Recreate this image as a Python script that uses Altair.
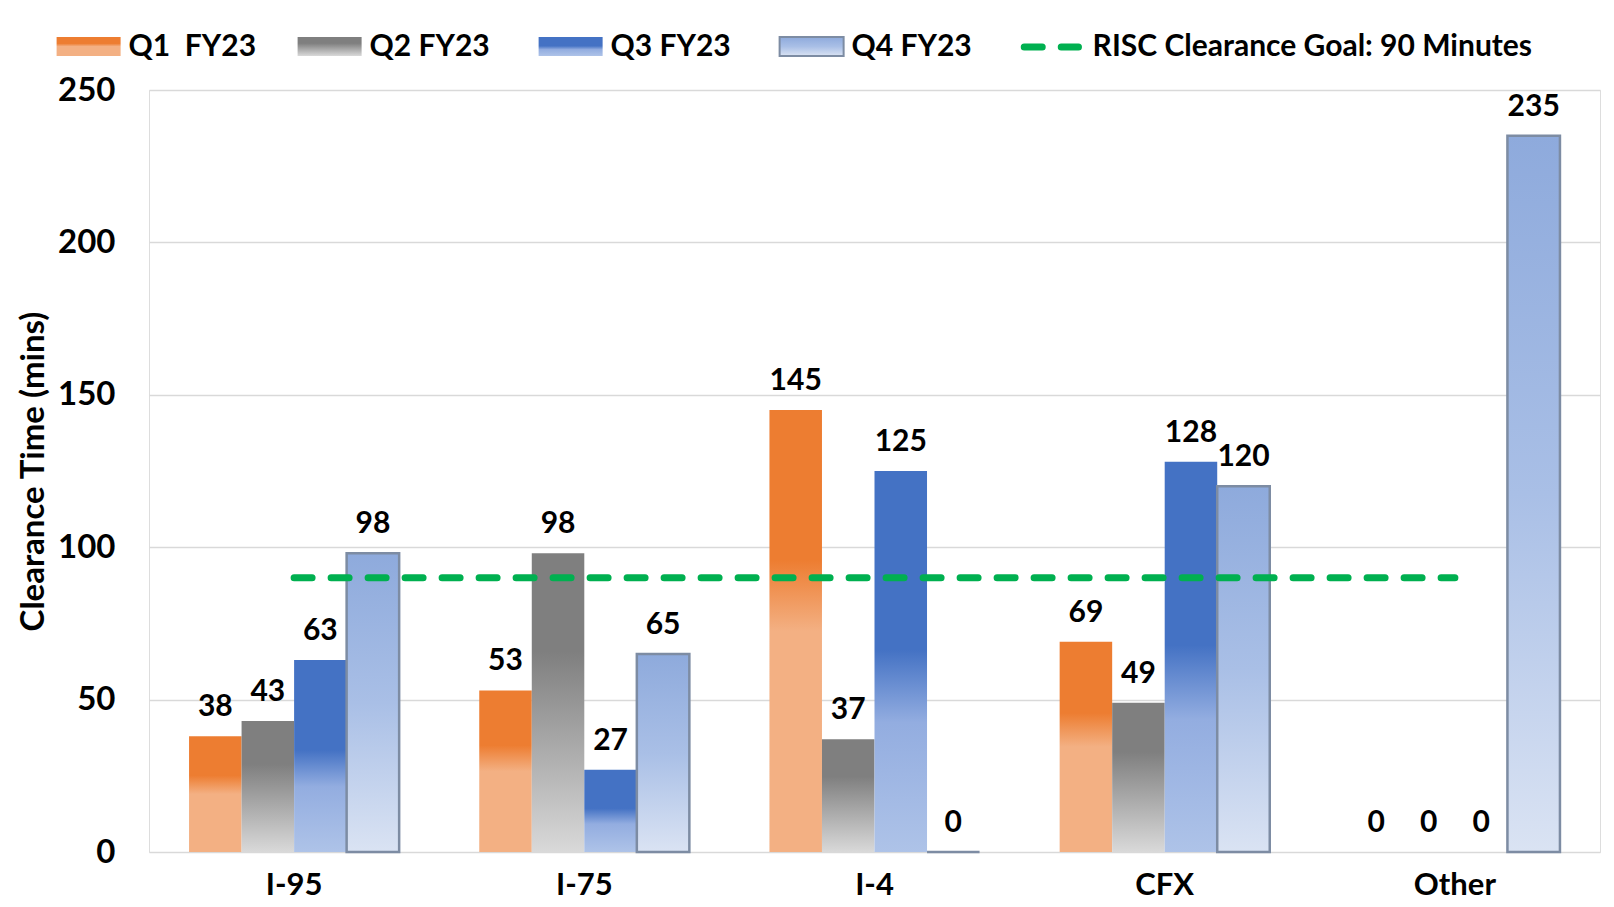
import altair as alt
import pandas as pd

categories = ["I-95", "I-75", "I-4", "CFX", "Other"]
series = ["Q1\u00a0\u00a0FY23", "Q2 FY23", "Q3 FY23", "Q4 FY23"]
q1 = [38, 53, 145, 69, 0]
q2 = [43, 98, 37, 49, 0]
q3 = [63, 27, 125, 128, 0]
q4 = [98, 65, 0, 120, 235]
goal_label = "RISC Clearance Goal: 90 Minutes"
goal_value = 90
y_ticks = [0, 50, 100, 150, 200, 250]

FONT = "Lato"


def grad(stops):
    return alt.Gradient(
        gradient="linear",
        stops=[alt.GradientStop(color=c, offset=o) for o, c in stops],
        x1=0, x2=0, y1=0, y2=1,
    )


grads = {
    series[0]: grad([(0, "#ed7d31"), (0.34, "#ed7d31"), (0.5, "#f3b083"), (1, "#f3b083")]),
    series[1]: grad([(0, "#7f7f7f"), (0.33, "#7f7f7f"), (1, "#d9d9d9")]),
    series[2]: grad([(0, "#4472c4"), (0.47, "#4472c4"), (0.66, "#93ade0"), (1, "#aec3e8")]),
    series[3]: grad([(0, "#8eaadc"), (0.5, "#a9bfe6"), (1, "#dae3f3")]),
}

bars_df = pd.DataFrame({
    "category": categories * 4,
    "series": [s for s in series for _ in categories],
    "value": q1 + q2 + q3 + q4,
})
goal_df = pd.DataFrame({"category": [categories[0], categories[-1]], "value": [goal_value, goal_value]})
legend_df = pd.DataFrame({"item": series + [goal_label], "idx": list(range(len(series) + 1))})

x_enc = alt.X(
    "category:N", sort=categories,
    scale=alt.Scale(domain=categories, paddingInner=0.276, paddingOuter=0.138),
    axis=alt.Axis(title=None, labelFontSize=31, labelFontWeight="bold", labelColor="black",
                  labelFont=FONT, ticks=False, tickSize=0, domain=False, labelPadding=18,
                  labelAngle=0, grid=False),
)
xo_enc = alt.XOffset("series:N", sort=series,
                     scale=alt.Scale(domain=series, paddingInner=0, paddingOuter=0))
y_enc = alt.Y(
    "value:Q", scale=alt.Scale(domain=[0, 250], nice=False),
    axis=alt.Axis(title="Clearance Time (mins)", values=y_ticks, labelFontSize=33,
                  labelFontWeight="bold", labelColor="black", labelFont=FONT,
                  ticks=False, tickSize=0, domain=False, labelPadding=34,
                  gridColor="#d9d9d9", gridWidth=1.5,
                  titleFontSize=33, titleFontWeight="bold", titleColor="black", titleFont=FONT,
                  titleX=-116, titleY=381, titleAngle=-90, titleBaseline="middle", titleAlign="center"),
)

base = alt.Chart(bars_df)
bar_layers = []
for s in series:
    kw = dict(fill=grads[s])
    if s == series[3]:
        kw.update(stroke="#7d8ca3", strokeWidth=2.5)
    bar_layers.append(
        base.transform_filter(alt.datum.series == s).mark_bar(**kw).encode(
            x=x_enc, xOffset=xo_enc, y=y_enc)
    )

labels = base.mark_text(baseline="alphabetic", dy=-20, fontSize=30, fontWeight="bold",
                        font=FONT, color="black").encode(
    x=x_enc, xOffset=xo_enc, y=y_enc, text="value:Q")

goal = alt.Chart(goal_df).mark_line(color="#00b050", strokeWidth=7, strokeDash=[18, 19],
                                    strokeCap="round").encode(x=x_enc, y=y_enc)

main = alt.layer(*bar_layers, goal, labels)

# legend row (own horizontal scale: one step per item)
LDOM = [0.3834, 6.404]
lx = alt.X("idx:Q", scale=alt.Scale(domain=LDOM, nice=False, zero=False), axis=None)
lbase = alt.Chart(legend_df)
leg_layers = []
for s in series:
    kw = dict(fill=grads[s])
    if s == series[3]:
        kw.update(stroke="#7d8ca3", strokeWidth=2)
    leg_layers.append(
        lbase.transform_filter(alt.datum.item == s)
        .transform_calculate(x2="datum.idx + 0.2656")
        .mark_rect(**kw)
        .encode(x=lx, x2="x2:Q", y=alt.value(-53), y2=alt.value(-34))
    )
leg_layers.append(
    lbase.transform_filter(alt.datum.item == goal_label)
    .transform_calculate(xa="datum.idx + 0.015", xb="datum.idx + 0.24")
    .mark_rule(color="#00b050", strokeWidth=7, strokeDash=[18, 19], strokeCap="round")
    .encode(x=alt.X("xa:Q", scale=alt.Scale(domain=LDOM, nice=False, zero=False), axis=None),
            x2="xb:Q", y=alt.value(-43))
)
leg_layers.append(
    lbase.mark_text(align="left", baseline="middle", dx=72, fontSize=30, fontWeight="bold",
                    font=FONT, color="black").encode(x=lx, y=alt.value(-43), text="item:N")
)
legend = alt.layer(*leg_layers)

chart = alt.layer(main, legend).resolve_scale(x="independent").properties(
    width=1451, height=762,
    autosize=alt.AutoSizeParams(type="none"),
    padding={"left": 141, "top": 82, "right": 6, "bottom": 47},
).configure_view(stroke="black", strokeWidth=2).configure(font=FONT)

chart.save("out.html", embed_options={"renderer": "svg", "actions": False})
